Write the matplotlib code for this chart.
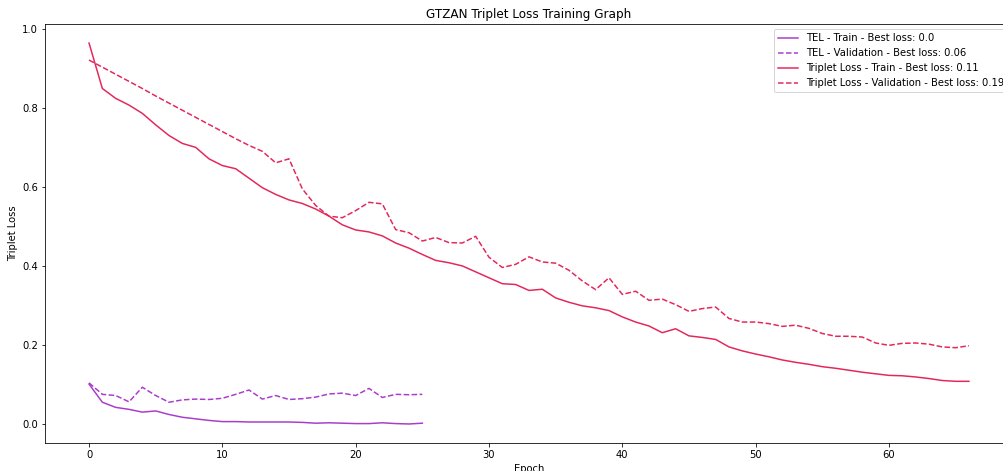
import numpy as np
import matplotlib
matplotlib.use("Agg")
from matplotlib import pyplot as plt

# valores
tel_train = [0.101, 0.055, 0.042, 0.037, 0.030, 0.033, 0.024, 0.017, 0.013, 0.009,
             0.006, 0.006, 0.005, 0.005, 0.005, 0.005, 0.004, 0.002, 0.003, 0.002,
             0.001, 0.001, 0.003, 0.001, 0.000, 0.002]
tel_val = [0.104, 0.075, 0.072, 0.056, 0.093, 0.072, 0.055, 0.061, 0.063, 0.062,
           0.065, 0.075, 0.086, 0.063, 0.072, 0.062, 0.064, 0.068, 0.076, 0.078,
           0.072, 0.090, 0.067, 0.075, 0.074, 0.075]
trip_train = [0.964, 0.849, 0.824, 0.807, 0.786, 0.757, 0.730, 0.710, 0.700, 0.671,
              0.654, 0.646, 0.622, 0.598, 0.581, 0.567, 0.558, 0.544, 0.526, 0.504,
              0.491, 0.486, 0.476, 0.458, 0.445, 0.429, 0.414, 0.408, 0.400, 0.385,
              0.370, 0.355, 0.353, 0.338, 0.341, 0.319, 0.308, 0.299, 0.294, 0.287,
              0.271, 0.258, 0.248, 0.231, 0.241, 0.223, 0.219, 0.214, 0.195, 0.185,
              0.177, 0.170, 0.162, 0.156, 0.151, 0.145, 0.141, 0.136, 0.131, 0.127,
              0.123, 0.122, 0.119, 0.115, 0.110, 0.108, 0.108]
trip_val = [0.921, 0.903, 0.885, 0.867, 0.849, 0.830, 0.812, 0.794, 0.776, 0.758,
            0.740, 0.722, 0.705, 0.690, 0.661, 0.671, 0.595, 0.553, 0.526, 0.522,
            0.540, 0.561, 0.557, 0.492, 0.484, 0.463, 0.472, 0.459, 0.458, 0.475,
            0.422, 0.396, 0.404, 0.423, 0.410, 0.407, 0.389, 0.362, 0.340, 0.370,
            0.328, 0.336, 0.313, 0.316, 0.302, 0.285, 0.292, 0.296, 0.267, 0.258,
            0.258, 0.254, 0.247, 0.250, 0.242, 0.229, 0.222, 0.222, 0.220, 0.205,
            0.199, 0.204, 0.205, 0.202, 0.195, 0.193, 0.198]

labels = ["TEL - Train - Best loss: 0.0",
          "TEL - Validation - Best loss: 0.06",
          "Triplet Loss - Train - Best loss: 0.11",
          "Triplet Loss - Validation - Best loss: 0.19"]

purple = "#a93ccb"
red = "#e4275a"

fig = plt.figure(figsize=(1003 / 72, 471 / 72), dpi=72)
ax = fig.add_axes([0.0449, 0.0594, 0.965, 0.8896])  # o eixo passa da borda direita, como no original

ax.plot(np.arange(len(tel_train)), tel_train, color=purple, label=labels[0])
ax.plot(np.arange(len(tel_val)), tel_val, color=purple, linestyle="--", label=labels[1])
ax.plot(np.arange(len(trip_train)), trip_train, color=red, label=labels[2])
ax.plot(np.arange(len(trip_val)), trip_val, color=red, linestyle="--", label=labels[3])

ax.set_title("GTZAN Triplet Loss Training Graph")
ax.set_xlabel("Epoch")
ax.set_ylabel("Triplet Loss")
ax.legend(loc="upper right")

fig.savefig("out.png", dpi=72)
